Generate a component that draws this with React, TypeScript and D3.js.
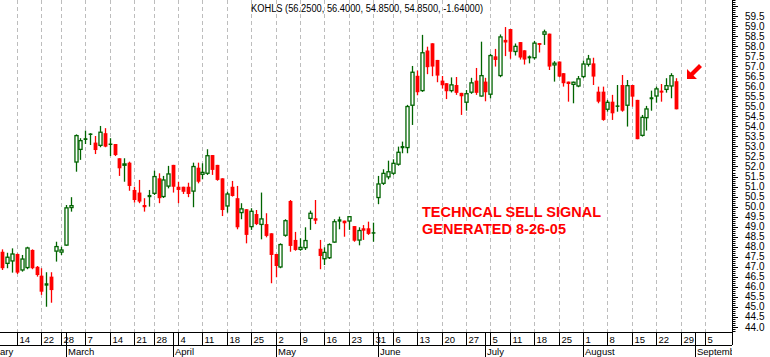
import React from 'react';
import * as d3 from 'd3';

const TITLE = 'KOHLS (56.2500, 56.4000, 54.8500, 54.8500, -1.64000)';
const SIGNAL_LINES = ['TECHNCAL SELL SIGNAL', 'GENERATED 8-26-05'];
const MONTH_NAMES = ['January', 'February', 'March', 'April', 'May', 'June', 'July', 'August', 'September', 'October'];
// visible tail of the partially cut-off first month label
const FIRST_MONTH_TAIL = 'ary';

const PRE_DATES = ['2005-02-01', '2005-02-02', '2005-02-03', '2005-02-04', '2005-02-07', '2005-02-08'];
const DATES = [
  '2005-02-09', '2005-02-10', '2005-02-11', '2005-02-14', '2005-02-15', '2005-02-16', '2005-02-17', '2005-02-18', '2005-02-22', '2005-02-23', '2005-02-24', '2005-02-25', '2005-02-28',
  '2005-03-01', '2005-03-02', '2005-03-03', '2005-03-04', '2005-03-07', '2005-03-08', '2005-03-09', '2005-03-10', '2005-03-11', '2005-03-14', '2005-03-15', '2005-03-16', '2005-03-17', '2005-03-18', '2005-03-21', '2005-03-22', '2005-03-23', '2005-03-24', '2005-03-28', '2005-03-29', '2005-03-30', '2005-03-31',
  '2005-04-01', '2005-04-04', '2005-04-05', '2005-04-06', '2005-04-07', '2005-04-08', '2005-04-11', '2005-04-12', '2005-04-13', '2005-04-14', '2005-04-15', '2005-04-18', '2005-04-19', '2005-04-20', '2005-04-21', '2005-04-22', '2005-04-25', '2005-04-26', '2005-04-27', '2005-04-28', '2005-04-29',
  '2005-05-02', '2005-05-03', '2005-05-04', '2005-05-05', '2005-05-06', '2005-05-09', '2005-05-10', '2005-05-11', '2005-05-12', '2005-05-13', '2005-05-16', '2005-05-17', '2005-05-18', '2005-05-19', '2005-05-20', '2005-05-23', '2005-05-24', '2005-05-25', '2005-05-26', '2005-05-27', '2005-05-31',
  '2005-06-01', '2005-06-02', '2005-06-03', '2005-06-06', '2005-06-07', '2005-06-08', '2005-06-09', '2005-06-10', '2005-06-13', '2005-06-14', '2005-06-15', '2005-06-16', '2005-06-17', '2005-06-20', '2005-06-21', '2005-06-22', '2005-06-23', '2005-06-24', '2005-06-27', '2005-06-28', '2005-06-29', '2005-06-30',
  '2005-07-01', '2005-07-05', '2005-07-06', '2005-07-07', '2005-07-08', '2005-07-11', '2005-07-12', '2005-07-13', '2005-07-14', '2005-07-15', '2005-07-18', '2005-07-19', '2005-07-20', '2005-07-21', '2005-07-22', '2005-07-25', '2005-07-26', '2005-07-27', '2005-07-28', '2005-07-29',
  '2005-08-01', '2005-08-02', '2005-08-03', '2005-08-04', '2005-08-05', '2005-08-08', '2005-08-09', '2005-08-10', '2005-08-11', '2005-08-12', '2005-08-15', '2005-08-16', '2005-08-17', '2005-08-18', '2005-08-19', '2005-08-22', '2005-08-23', '2005-08-24', '2005-08-25', '2005-08-26',
];
const FUTURE_DATES = ['2005-08-29', '2005-08-30', '2005-08-31', '2005-09-01', '2005-09-02', '2005-09-05', '2005-09-06', '2005-09-07', '2005-09-08', '2005-09-09'];

const OPEN = [
  47.75, 47.14, 47.26, 47.64, 46.81, 46.93, 47.84, 47.0, 46.56, 46.06, 46.51, 47.75, 47.7,
  48.05, 49.92, 52.19, 52.82, 53.32, 53.57, 53.19, 53.02, 53.66, 53.07, 53.12, 52.41, 52.03, 52.19, 50.83, 50.7, 50.08, 50.47, 50.63, 51.41, 50.47, 50.99,
  52.08, 50.99, 50.99, 50.99, 50.74, 51.94, 51.58, 51.63, 52.57, 52.08, 51.41, 50.0, 50.99, 50.42, 49.67, 49.87, 48.97, 49.63, 49.08, 49.13, 48.67,
  47.64, 46.96, 48.54, 50.28, 48.34, 47.84, 47.92, 49.38, 49.42, 47.9, 47.37, 47.42, 48.2, 49.25, 49.3, 49.25, 49.03, 48.3, 48.92, 48.92, 48.64,
  50.42, 51.13, 51.45, 51.63, 52.08, 52.91, 52.91, 55.02, 56.52, 55.75, 57.78, 58.14, 57.31, 56.28, 56.15, 55.75, 56.06, 55.67, 55.17, 55.67, 56.28, 55.48,
  56.23, 55.57, 57.49, 56.5, 58.31, 58.85, 57.7, 58.2, 57.79, 57.39, 57.39, 58.15, 58.56, 58.62, 57.03, 57.23, 56.65, 56.23, 56.06, 55.98,
  56.45, 57.06, 57.14, 55.73, 55.73, 54.82, 55.23, 54.95, 56.06, 55.02, 56.06, 55.32, 53.52, 54.4, 55.35, 55.48, 55.78, 55.81, 55.98, 56.25,
];
const HIGH = [
  47.87, 47.7, 47.92, 47.66, 47.59, 48.0, 47.87, 47.04, 46.93, 46.73, 46.73, 48.25, 48.0,
  50.08, 50.47, 53.6, 53.41, 53.79, 53.66, 53.52, 54.02, 53.91, 53.41, 53.12, 52.41, 52.41, 52.24, 50.99, 51.33, 50.42, 50.83, 51.79, 51.66, 51.53, 52.03,
  52.08, 51.24, 50.99, 51.19, 52.19, 52.19, 52.16, 52.86, 52.57, 52.08, 51.41, 50.74, 51.28, 51.03, 50.17, 49.87, 49.92, 49.83, 50.7, 49.67, 48.67,
  47.64, 48.17, 49.37, 50.33, 48.74, 48.42, 48.97, 49.8, 50.33, 48.34, 47.97, 48.17, 49.37, 49.5, 49.3, 49.53, 49.03, 48.97, 49.08, 49.25, 49.2,
  51.53, 51.86, 52.29, 52.36, 52.99, 53.24, 55.07, 57.01, 56.78, 58.56, 57.97, 58.14, 57.31, 56.51, 56.15, 56.44, 56.46, 55.67, 55.81, 56.42, 56.91, 58.22,
  56.42, 57.62, 57.86, 58.58, 58.95, 58.85, 58.13, 58.2, 57.79, 57.53, 58.26, 58.15, 58.82, 58.62, 57.25, 57.23, 56.65, 56.23, 56.23, 56.51,
  57.28, 57.56, 57.42, 55.98, 55.98, 55.32, 55.57, 56.06, 56.56, 56.31, 56.06, 55.32, 54.57, 55.02, 55.78, 55.98, 56.11, 56.4, 56.65, 56.4,
];
const LOW = [
  46.84, 46.93, 46.71, 46.64, 46.76, 46.88, 46.88, 46.51, 45.6, 45.01, 45.21, 47.26, 47.59,
  48.05, 49.75, 51.74, 52.33, 53.12, 53.07, 52.62, 52.96, 52.96, 52.52, 52.52, 51.53, 51.24, 50.79, 50.2, 50.17, 49.75, 50.0, 50.58, 50.17, 50.43, 50.91,
  50.7, 50.17, 50.63, 50.47, 49.97, 51.16, 51.36, 51.58, 51.58, 51.29, 49.53, 49.7, 50.5, 48.87, 49.37, 48.17, 48.84, 49.08, 48.37, 48.47, 46.18,
  46.48, 46.93, 48.5, 47.75, 47.8, 47.8, 47.84, 48.84, 49.13, 46.88, 47.09, 47.39, 48.2, 48.87, 48.5, 48.84, 48.25, 48.07, 48.34, 48.59, 48.25,
  50.12, 51.08, 51.36, 51.58, 52.04, 52.66, 52.66, 54.07, 55.55, 55.72, 56.6, 56.5, 56.2, 55.88, 55.36, 55.69, 55.57, 54.57, 54.78, 55.62, 55.57, 55.48,
  55.25, 55.4, 56.98, 56.45, 57.5, 57.37, 57.53, 57.33, 57.08, 57.14, 57.33, 57.68, 58.06, 56.81, 56.23, 56.45, 55.98, 55.23, 55.15, 55.95,
  56.4, 56.98, 56.06, 55.15, 54.28, 54.73, 54.32, 54.73, 54.73, 53.99, 54.98, 53.36, 53.49, 53.79, 54.78, 55.18, 55.23, 55.68, 55.4, 54.85,
];
const CLOSE = [
  46.93, 47.51, 47.67, 46.71, 47.42, 47.97, 46.93, 46.59, 45.76, 46.18, 45.84, 48.04, 47.87,
  49.97, 50.08, 53.57, 53.32, 53.41, 53.62, 52.82, 53.74, 52.99, 53.12, 52.57, 51.91, 52.16, 51.03, 50.33, 50.25, 49.97, 50.58, 51.53, 50.42, 51.36, 51.66,
  50.99, 50.83, 50.74, 50.63, 52.03, 51.24, 51.74, 52.57, 51.83, 51.33, 49.83, 50.66, 50.53, 48.97, 49.92, 48.59, 49.8, 49.13, 49.42, 48.54, 47.59,
  47.04, 48.14, 49.33, 48.04, 47.84, 48.0, 48.34, 49.7, 49.3, 47.54, 47.75, 48.14, 49.28, 49.37, 49.17, 49.53, 48.3, 48.84, 48.8, 48.64, 48.7,
  51.16, 51.69, 51.77, 52.19, 52.74, 53.02, 55.02, 56.73, 55.7, 57.7, 56.95, 56.98, 56.53, 56.05, 55.75, 56.1, 55.67, 55.5, 55.66, 56.2, 55.67, 56.56,
  55.7, 57.56, 57.31, 58.49, 58.18, 57.72, 58.02, 57.43, 57.33, 57.49, 58.18, 58.06, 58.74, 56.98, 57.18, 56.48, 56.15, 56.11, 56.23, 56.4,
  57.14, 57.39, 56.48, 55.23, 54.32, 55.23, 54.65, 55.02, 54.78, 56.06, 55.48, 53.36, 54.48, 54.9, 55.45, 55.9, 55.68, 56.06, 56.56, 54.85,
];

const PRICE_TICKS = [44.0, 44.5, 45.0, 45.5, 46.0, 46.5, 47.0, 47.5, 48.0, 48.5, 49.0, 49.5, 50.0, 50.5, 51.0, 51.5, 52.0, 52.5, 53.0, 53.5, 54.0, 54.5, 55.0, 55.5, 56.0, 56.5, 57.0, 57.5, 58.0, 58.5, 59.0, 59.5];

const GREEN = '#006400';
const RED = '#ff0000';
const FONT = '"Liberation Sans", Arial, sans-serif';

export default function App() {
  const W = 770;
  const H = 357;
  const AXIS_X = 732;
  const AXIS_TOP = 332;
  const AXIS_MID = 345;

  const parse = d3.timeParse('%Y-%m-%d');
  const slots = [
    ...PRE_DATES.map((d, i) => ({ date: parse(d) as Date, idx: i - PRE_DATES.length })),
    ...DATES.map((d, i) => ({ date: parse(d) as Date, idx: i })),
    ...FUTURE_DATES.map((d, i) => ({ date: parse(d) as Date, idx: DATES.length + i })),
  ];

  const x = d3.scaleLinear().domain([0, 144]).range([2.36, 705]);
  const y = d3.scaleLinear().domain([44, 59.5]).range([327, 16]);
  const cxOf = (i: number) => Math.round(x(i)) + 0.5;

  const weekStarts = slots.filter((s, k) => {
    if (k === 0) return false;
    const prev = slots[k - 1].date;
    return +d3.timeMonday.floor(prev) !== +d3.timeMonday.floor(s.date);
  });
  const monthStarts = slots.filter((s, k) => k === 0 || slots[k - 1].date.getMonth() !== s.date.getMonth());

  const minorTicks = d3.range(438, 604).map((v) => v / 10);

  const candles = DATES.map((d, i) => {
    const o = OPEN[i], h = HIGH[i], l = LOW[i], c = CLOSE[i];
    const up = c >= o;
    const cx = cxOf(i);
    const top = y(Math.max(o, c));
    const bot = y(Math.min(o, c));
    const bh = Math.max(bot - top, 1);
    const color = up ? GREEN : RED;
    const solid = !up || bh < 2.5;
    return (
      <g key={d}>
        <line x1={cx} x2={cx} y1={y(h)} y2={y(l)} stroke={color} strokeWidth={1.3} />
        {solid ? (
          <rect x={cx - 1.9} y={top - (bh < 1.5 ? 0.5 : 0)} width={3.8} height={Math.max(bh, 1.5)} fill={color} />
        ) : (
          <rect x={cx - 1.55} y={top + 0.65} width={3.1} height={Math.max(bh - 1.3, 0.5)} fill="#fff" stroke={color} strokeWidth={1.3} />
        )}
      </g>
    );
  });

  return (
    <svg width={W} height={H} style={{ position: 'absolute', left: 0, top: 0, background: '#fff' }} fontFamily={FONT}>
      <defs>
        <clipPath id="axisClip">
          <rect x={0} y={0} width={AXIS_X} height={H} />
        </clipPath>
      </defs>
      <rect x={0} y={0} width={W} height={H} fill="#fff" />

      {/* vertical dashed grid */}
      {weekStarts.filter((s) => cxOf(s.idx) > 0).map((s) => (
        <line key={'g' + s.idx} x1={cxOf(s.idx)} x2={cxOf(s.idx)} y1={0} y2={AXIS_TOP} stroke="#bdbdbd" strokeWidth={1} strokeDasharray="4,3" />
      ))}

      {/* title */}
      <text x={251} y={12} fontSize={10} textLength={232} lengthAdjust="spacingAndGlyphs" fill="#000">{TITLE}</text>

      {/* candles */}
      <g clipPath="url(#axisClip)">{candles}</g>

      {/* sell signal text */}
      {SIGNAL_LINES.map((t, k) => (
        <text key={t} x={422} y={217 + k * 17.3} fontSize={14.5} fontWeight="bold" fill={RED}>{t}</text>
      ))}

      {/* arrow */}
      <path d="M687,79 L687,69 L690.5,72.5 L699,64 L702,67 L693.5,75.5 L697,79 Z" fill={RED} />

      {/* right price axis */}
      <line x1={AXIS_X + 0.5} x2={AXIS_X + 0.5} y1={0} y2={AXIS_MID} stroke="#000" strokeWidth={1} />
      {minorTicks.map((v) => {
        const major = Math.abs(v * 2 - Math.round(v * 2)) < 1e-6;
        const yy = Math.round(y(v)) + 0.5;
        if (yy < 0 || yy > AXIS_TOP) return null;
        return <line key={'t' + v} x1={AXIS_X} x2={AXIS_X + (major ? 6 : 3.5)} y1={yy} y2={yy} stroke="#000" strokeWidth={1} />;
      })}
      {PRICE_TICKS.map((v) => (
        <text key={'l' + v} x={745} y={y(v) + 3.5} fontSize={10} fill="#000">{v.toFixed(1)}</text>
      ))}

      {/* bottom date axis */}
      <g clipPath="url(#axisClip)">
        <line x1={0} x2={AXIS_X} y1={AXIS_TOP + 0.5} y2={AXIS_TOP + 0.5} stroke="#000" />
        <line x1={0} x2={AXIS_X} y1={AXIS_MID + 0.5} y2={AXIS_MID + 0.5} stroke="#000" />
        {weekStarts.filter((s) => cxOf(s.idx) > 0).map((s) => (
          <g key={'w' + s.idx}>
            <line x1={cxOf(s.idx)} x2={cxOf(s.idx)} y1={AXIS_TOP} y2={AXIS_MID} stroke="#000" />
            <text x={cxOf(s.idx) + 2} y={342.5} fontSize={9.5} fill="#000">{s.date.getDate()}</text>
          </g>
        ))}
        {monthStarts.map((s) => {
          const mx = cxOf(s.idx);
          if (mx < 0) {
            return <text key={'m' + s.idx} x={0} y={355} fontSize={9.5} fill="#000">{FIRST_MONTH_TAIL}</text>;
          }
          return (
            <g key={'m' + s.idx}>
              <line x1={mx} x2={mx} y1={AXIS_TOP} y2={H} stroke="#000" />
              <text x={mx + 1.5} y={355} fontSize={9.5} fill="#000">{MONTH_NAMES[s.date.getMonth()]}</text>
            </g>
          );
        })}
      </g>
    </svg>
  );
}
